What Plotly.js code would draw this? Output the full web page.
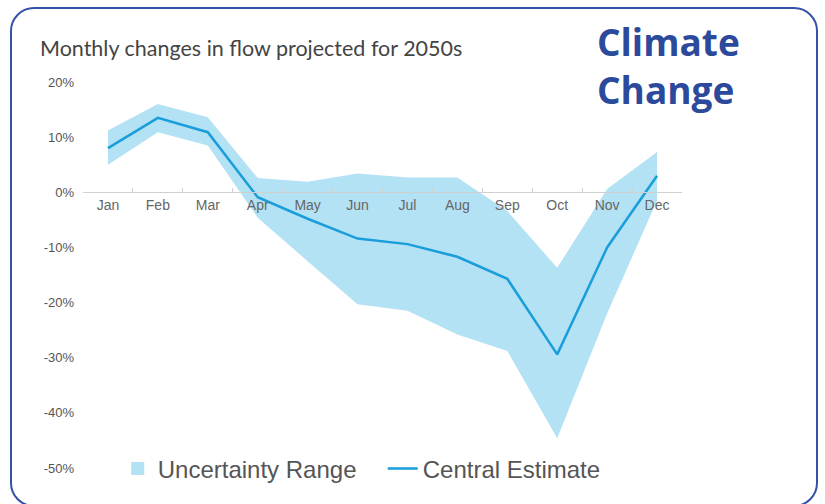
<!DOCTYPE html>
<html>
<head>
<meta charset="utf-8">
<script src="https://cdn.plot.ly/plotly-3.0.1.min.js"></script>
<style>
  html, body { margin: 0; padding: 0; background: #ffffff; overflow: hidden; }
  #wrap { position: relative; width: 825px; height: 504px; }
  #frame { position: absolute; left: 10px; top: 7px; width: 808px; height: 500px;
           border: 2px solid #3453a8; border-radius: 24px; box-sizing: border-box; }
  #chart { position: absolute; left: 0; top: 0; width: 825px; height: 504px; }
</style>
</head>
<body>
<div id="wrap">
  <div id="frame"></div>
  <div id="chart"></div>
</div>
<script>
// Data (percent change in flow)
const months = ['Jan','Feb','Mar','Apr','May','Jun','Jul','Aug','Sep','Oct','Nov','Dec'];
const centralEstimate = [8.0, 13.5, 10.9, -0.9, -4.8, -8.4, -9.4, -11.7, -15.7, -29.4, -10.0, 3.0];
const upperBound      = [11.2, 16.0, 13.6, 2.6, 1.9, 3.4, 2.7, 2.7, -3.4, -13.7, 0.6, 7.3];
const lowerBound      = [5.0, 10.9, 8.5, -4.6, -12.5, -20.3, -21.5, -25.8, -28.8, -44.6, -22.0, -1.5];
const yTickVals  = [20, 10, 0, -10, -20, -30, -40, -50];
const yTickText  = ['20%', '10%', '0%', '-10%', '-20%', '-30%', '-40%', '-50%'];

const bandColor = '#b3e2f5';
const lineColor = '#1a9ddb';

const traces = [
  { x: months, y: lowerBound, type: 'scatter', mode: 'lines',
    line: { width: 0, color: bandColor }, showlegend: false, hoverinfo: 'skip' },
  { x: months, y: upperBound, type: 'scatter', mode: 'lines', fill: 'tonexty',
    fillcolor: bandColor, line: { width: 0, color: bandColor }, showlegend: false, hoverinfo: 'skip' },
  { x: [null], y: [null], type: 'scatter', mode: 'markers', name: 'Uncertainty Range',
    marker: { symbol: 'square', size: 13, color: bandColor } },
  { x: months, y: centralEstimate, type: 'scatter', mode: 'lines', name: 'Central Estimate',
    line: { width: 2.5, color: lineColor } }
];

const layout = {
  width: 825, height: 504,
  margin: { l: 83, r: 143, t: 71, b: 25 },
  paper_bgcolor: 'rgba(0,0,0,0)',
  plot_bgcolor: 'rgba(0,0,0,0)',
  font: { family: 'Liberation Sans, Arial, sans-serif', color: '#555' },
  title: {
    text: 'Monthly changes in flow projected for 2050s',
    font: { family: 'Lato, sans-serif', size: 21.5, color: '#444' },
    xref: 'container', yref: 'container', x: 40/825, xanchor: 'left',
    y: 1 - 48/504, yanchor: 'middle'
  },
  xaxis: {
    type: 'category', range: [-0.5, 11.5],
    anchor: 'free', position: 52/74,
    showline: true, linecolor: '#d0d0d0', linewidth: 1,
    ticks: 'inside', ticklen: 4, tickcolor: '#d0d0d0', tickson: 'boundaries',
    showgrid: false, zeroline: false, layer: 'above traces',
    tickfont: { size: 14, color: '#666' }, fixedrange: true
  },
  yaxis: {
    range: [-52, 22], showgrid: false, zeroline: false, showline: false,
    tickvals: yTickVals, ticktext: yTickText, ticks: '',
    ticklabelstandoff: 8,
    tickfont: { size: 13, color: '#555' }, fixedrange: true
  },
  legend: {
    orientation: 'h', traceorder: 'normal',
    x: 0.058, xanchor: 'left', y: 0.025, yanchor: 'middle',
    entrywidth: 220, entrywidthmode: 'pixels',
    font: { size: 24, color: '#555' }, bgcolor: 'rgba(0,0,0,0)'
  },
  annotations: [{
    text: 'Climate<br>Change', showarrow: false,
    xref: 'paper', yref: 'paper', x: (595-83)/599, y: 1.013,
    xanchor: 'left', yanchor: 'middle', align: 'left',
    font: { family: 'Open Sans, sans-serif', size: 37, color: '#2c4a9c', weight: 'bold' }
  }]
};

Plotly.newPlot('chart', traces, layout, { displayModeBar: false, staticPlot: true });
</script>
</body>
</html>
